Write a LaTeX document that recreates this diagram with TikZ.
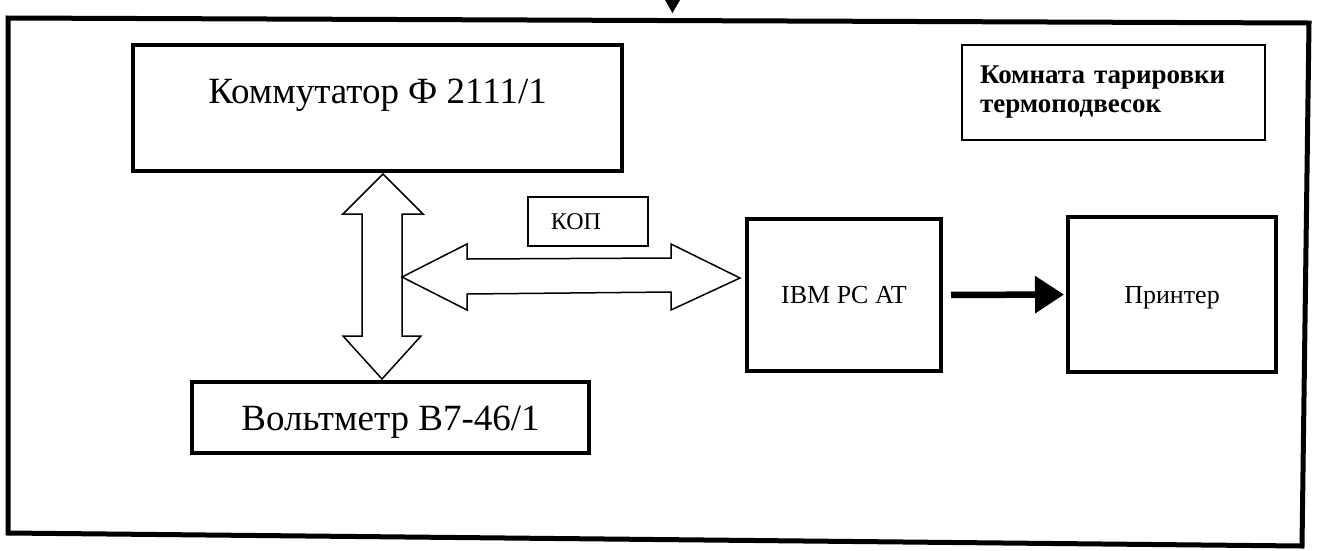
\documentclass[tikz,border=0pt]{standalone}
\usepackage{fontspec}
\setmainfont{Liberation Serif}
\usetikzlibrary{arrows.meta,calc}
\begin{document}
\begin{tikzpicture}[x=1pt,y=-1pt,
  thickbox/.style={draw, line width=4pt, inner sep=0pt},
  thinbox/.style={draw, line width=1.5pt, inner sep=0pt},
  dblarrow/.style={draw, line width=1.5pt, line join=miter},
  bigfont/.style={font=\fontsize{37}{40}\selectfont},
  midfont/.style={font=\fontsize{26}{28}\selectfont}]
\useasboundingbox (0,0) rectangle (1318,550);
\fill[white] (0,0) rectangle (1318,550);
% outer frame (room)
\draw[line width=5pt, line join=miter] (8,18) -- (1309,23) -- (1302,546) -- (8,533) -- cycle;
% incoming arrow tip at top
\fill (665,0) -- (680,0) -- (672.5,13) -- cycle;
% boxes
\node[thickbox, minimum width=489pt, minimum height=126pt, bigfont, text height=25pt, text depth=35pt] (komm) at (377.5,108) {Коммутатор Ф 2111/1};
\node[thickbox, minimum width=397pt, minimum height=71pt, bigfont, text height=25pt, text depth=0pt] (volt) at (390.5,417.5) {Вольтметр В7-46/1};
\node[thickbox, minimum width=194pt, minimum height=152pt, midfont, text height=17pt, text depth=0pt] (ibm) at (844,295) {IBM PC AT};
\node[thickbox, minimum width=208pt, minimum height=155pt, midfont, text height=17pt, text depth=0pt] (prn) at (1172,294.5) {Принтер};
\node[thinbox, minimum width=120pt, minimum height=49pt, font=\fontsize{24}{26}\selectfont, text height=16pt, text depth=0pt] (kop) at (588,221.5) {\hspace*{-24pt}КОП};
\node[thinbox, minimum width=303pt, minimum height=95pt, text width=267pt, align=left, font=\bfseries\fontsize{27}{29}\selectfont] (legend) at (1113.5,92.5) {Комната тарировки\\термоподвесок};
% anchor points of the double arrows
\path (komm.south) ++(5.5,1) coordinate (vtop);
\path (volt.north) ++(-8.5,-1) coordinate (vbot);
\path (vtop) ++(19,103) coordinate (hl);
\path (ibm.west) ++(-5,-17) coordinate (hr);
% horizontal double arrow (bus KOP)
\draw[dblarrow] (hl) -- ($(hl)+(65,-33)$) -- ($(hl)+(65,-18)$) -- ($(hr)+(-69,-20)$) -- ($(hr)+(-69,-34)$) -- (hr)
  -- ($(hr)+(-69,32)$) -- ($(hr)+(-69,14)$) -- ($(hl)+(65,17)$) -- ($(hl)+(65,33)$) -- cycle;
% vertical double arrow
\draw[dblarrow] (vtop) -- ($(vtop)+(40,40)$) -- ($(vtop)+(19,40)$) -- ($(vbot)+(20,-43)$) -- ($(vbot)+(39,-43)$) -- (vbot)
  -- ($(vbot)+(-39,-43)$) -- ($(vbot)+(-20,-43)$) -- ($(vtop)+(-21,40)$) -- ($(vtop)+(-40,40)$) -- cycle;
% IBM -> printer
\draw[line width=6.5pt, -{Triangle[length=29pt,width=36pt]}, shorten <=8pt, shorten >=2pt] (ibm.east) -- (prn.west);
\end{tikzpicture}
\end{document}
